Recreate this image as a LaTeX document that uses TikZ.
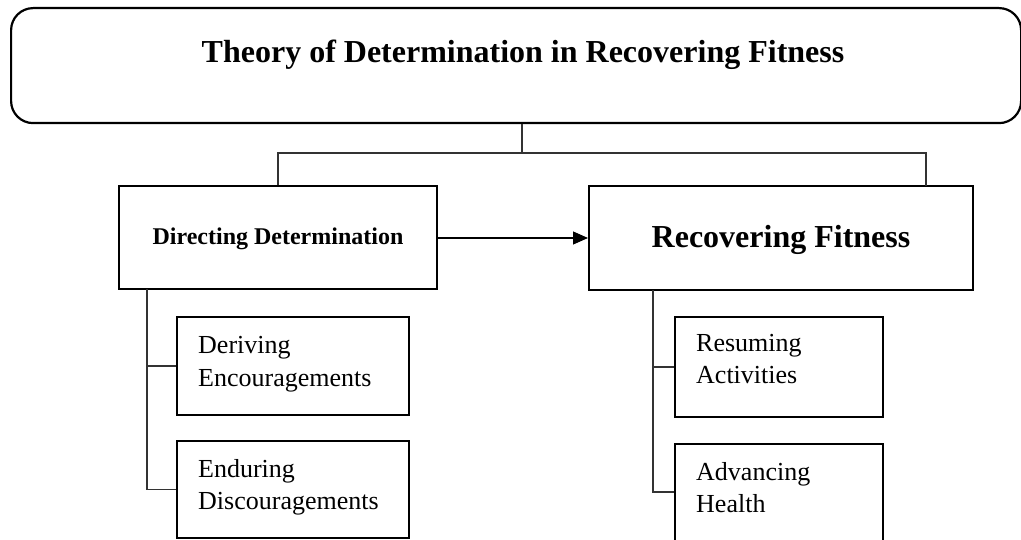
\documentclass[tikz,border=0pt]{standalone}
\usepackage{fontspec}
\setmainfont{Liberation Serif}
\usetikzlibrary{arrows.meta}
\tikzset{
  mainbox/.style={draw=black, line width=2pt, rectangle, inner sep=0pt},
  subbox/.style={draw=black, line width=2pt, rectangle, inner sep=0pt, anchor=north west},
  conn/.style={draw=black!80, line width=1.2pt},
  subtext/.style={anchor=base west, inner sep=0pt, font=\fontsize{26}{32}\selectfont},
}
\begin{document}
\begin{tikzpicture}[x=1pt, y=-1pt]
\clip (0,0) rectangle (1021,540);
\useasboundingbox (0,0) rectangle (1021,540);
% title box
\node[draw=black, line width=2.2pt, rounded corners=22pt, minimum width=1010pt, minimum height=115pt, anchor=north west, inner sep=0pt] (top) at (10,7) {};
\node[anchor=base, inner sep=0pt, font=\fontsize{32}{38}\selectfont\bfseries] (title) at (523,63) {Theory of Determination in Recovering Fitness};
% main boxes
\node[mainbox, minimum width=318pt, minimum height=103pt] (dd) at (278,238) {};
\node[anchor=base, inner sep=0pt, font=\fontsize{24}{28}\selectfont\bfseries] (ddt) at (278,245) {Directing Determination};
\node[mainbox, minimum width=384pt, minimum height=104pt] (rf) at (781,238) {};
\node[anchor=base, inner sep=0pt, font=\fontsize{32}{38}\selectfont\bfseries] (rft) at (781,248) {Recovering Fitness};
% tree connector
\coordinate (j) at (522,153);
\draw[conn] (top.south -| j) -- (j);
\draw[conn] (dd.north) |- (j) -| (926,186);
\draw[-{Triangle[length=15pt,width=13pt]}, line width=1.2pt] (dd.east) -- (rf.west);
% left sub boxes
\node[subbox, minimum width=232pt, minimum height=98pt] (d1) at (176,316) {};
\node[subtext] at (198,353) {Deriving};
\node[subtext] at (198,386) {Encouragements};
\node[subbox, minimum width=232pt, minimum height=97pt] (d2) at (176,440) {};
\node[subtext] at (198,477) {Enduring};
\node[subtext] at (198,509) {Discouragements};
\coordinate (lv) at (147,289);
\draw[conn] (lv) |- (d2.west);
\draw[conn] (lv |- d1.west) -- (d1.west);
% right sub boxes
\node[subbox, minimum width=208pt, minimum height=100pt] (r1) at (674,316) {};
\node[subtext] at (696,352) {Resuming};
\node[subtext] at (696,384) {Activities};
\node[subbox, minimum width=208pt, minimum height=140pt] (r2) at (674,443) {};
\node[subtext] at (696,480) {Advancing};
\node[subtext] at (696,512) {Health};
\coordinate (rv) at (653,290);
\coordinate (r2b) at (674,492);
\draw[conn] (rv) |- (r2b);
\draw[conn] (rv |- r1.west) -- (r1.west);
\end{tikzpicture}
\end{document}
